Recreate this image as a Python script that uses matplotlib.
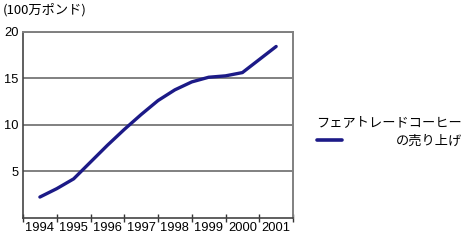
import numpy as np
import matplotlib
matplotlib.use("Agg")
import matplotlib.pyplot as plt
from matplotlib.ticker import FixedLocator, NullFormatter

# Data: fair trade coffee sales (million pounds), read at half-year steps
years = [1994, 1995, 1996, 1997, 1998, 1999, 2000, 2001]
period = [1994.0, 1994.5, 1995.0, 1995.5, 1996.0, 1996.5, 1997.0, 1997.5,
          1998.0, 1998.5, 1999.0, 1999.5, 2000.0, 2000.5, 2001.0]
sales = [2.25, 3.15, 4.2, 6.0, 7.8, 9.5, 11.1, 12.6,
         13.75, 14.6, 15.1, 15.25, 15.6, 17.0, 18.4]
yticks = [5, 10, 15, 20]

unit_label = "(100万ポンド)"
legend_label = "フェアトレードコーヒー\nの売り上げ"

num_font = ["Liberation Sans", "DejaVu Sans"]
jp_font = ["Noto Sans CJK JP", "DejaVu Sans"]
line_color = "#1c1a87"
grid_color = "#808080"

fig = plt.figure(figsize=(4.66, 2.41), dpi=100)
ax = fig.add_axes([0.0494, 0.0954, 0.5794, 0.7736])

ax.plot(period, sales, color=line_color, lw=2.4, solid_capstyle="round",
        solid_joinstyle="round")

ax.set_xlim(years[0] - 0.5, years[-1] + 0.5)
ax.set_ylim(0, 20)

# year boundaries as tick marks, labels centred in each year
ax.xaxis.set_major_locator(FixedLocator([y - 0.5 for y in years] + [years[-1] + 0.5]))
ax.xaxis.set_major_formatter(NullFormatter())
ax.xaxis.set_minor_locator(FixedLocator(years))
ax.set_xticklabels([str(y) for y in years], minor=True)
ax.tick_params(axis="x", which="major", direction="inout", length=6, width=1, color="#333333")
ax.tick_params(axis="x", which="minor", length=0, pad=3)

ax.set_yticks(yticks)
ax.set_yticklabels([str(v) for v in yticks])
ax.tick_params(axis="y", length=0, pad=3)

for lab in ax.get_xticklabels(minor=True) + ax.get_yticklabels():
    lab.set_family(num_font)
    lab.set_fontsize(9.3)

ax.grid(axis="y", color=grid_color, lw=1.4)
for side in ["top", "right"]:
    ax.spines[side].set_color(grid_color)
    ax.spines[side].set_linewidth(1.4)
for side in ["left", "bottom"]:
    ax.spines[side].set_color("#444444")
    ax.spines[side].set_linewidth(1.2)

fig.text(3 / 466, 1 - 9.5 / 241, unit_label, family=jp_font, fontsize=9.5,
         ha="left", va="center")

# legend drawn by hand to the right of the plot
line_text = legend_label.split("\n")
fig.text(462 / 466, 1 - 123 / 241, line_text[0], family=jp_font, fontsize=9.5,
         ha="right", va="center")
fig.text(462 / 466, 1 - 141 / 241, line_text[1], family=jp_font, fontsize=9.5,
         ha="right", va="center")
fig.add_artist(plt.Line2D([317 / 466, 342 / 466], [1 - 140 / 241, 1 - 140 / 241],
                          color=line_color, lw=2.6, solid_capstyle="round"))

fig.savefig("out.png", dpi=100)
